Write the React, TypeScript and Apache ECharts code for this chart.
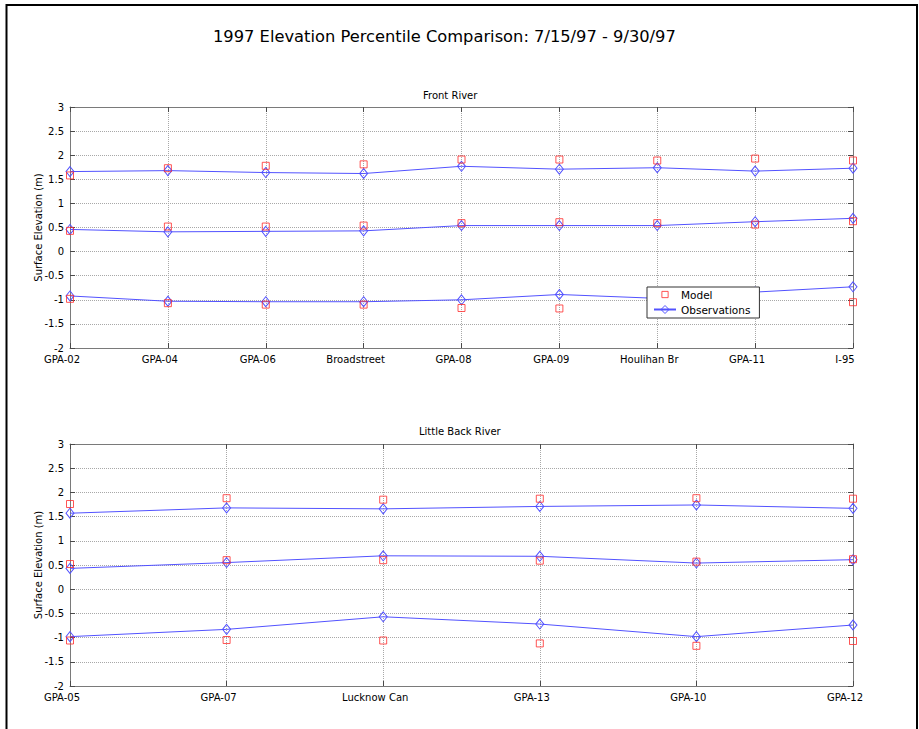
import React, { useEffect, useRef } from "react";
import * as echarts from "echarts";

// Station names along each river
const frontSites = ["GPA-02", "GPA-04", "GPA-06", "Broadstreet", "GPA-08", "GPA-09", "Houlihan Br", "GPA-11", "I-95"];
const littleSites = ["GPA-05", "GPA-07", "Lucknow Can", "GPA-13", "GPA-10", "GPA-12"];

// Front River percentile elevations (m)
const frontModelHigh = [1.58, 1.73, 1.78, 1.81, 1.91, 1.91, 1.89, 1.93, 1.89];
const frontObsHigh = [1.66, 1.68, 1.64, 1.62, 1.77, 1.71, 1.74, 1.67, 1.73];
const frontModelMid = [0.43, 0.52, 0.52, 0.54, 0.59, 0.61, 0.59, 0.56, 0.63];
const frontObsMid = [0.46, 0.41, 0.42, 0.43, 0.54, 0.54, 0.54, 0.62, 0.69];
const frontModelLow = [-0.98, -1.07, -1.1, -1.1, -1.17, -1.18, -1.12, -1.02, -1.05];
const frontObsLow = [-0.92, -1.03, -1.04, -1.04, -1.0, -0.89, -0.97, -0.84, -0.73];

// Little Back River percentile elevations (m)
const littleModelHigh = [1.76, 1.88, 1.85, 1.87, 1.88, 1.87];
const littleObsHigh = [1.57, 1.68, 1.66, 1.71, 1.74, 1.67];
const littleModelMid = [0.52, 0.6, 0.6, 0.59, 0.57, 0.62];
const littleObsMid = [0.43, 0.55, 0.69, 0.68, 0.54, 0.61];
const littleModelLow = [-1.06, -1.05, -1.06, -1.12, -1.17, -1.07];
const littleObsLow = [-0.98, -0.83, -0.57, -0.72, -0.98, -0.74];

const yMin = -2;
const yMax = 3;
const yStep = 0.5;

const FONT = '"DejaVu Sans", "Liberation Sans", sans-serif';
const FRAME = "#7a7a7a";
const TICK = "#4a4a4a";
const GRID = "#a8a8a8";
const BLUE = "#5252ff";
const RED = "#ff2a2a";

function panelAxes(g: number, sites: string[]) {
  const xAxes = [
    {
      gridIndex: g,
      type: "category",
      data: sites,
      boundaryGap: false,
      position: "bottom",
      axisLine: { show: true, onZero: false, lineStyle: { color: FRAME, width: 1 } },
      axisTick: { show: true, inside: true, length: 5, interval: 0, lineStyle: { color: TICK } },
      axisLabel: {
        interval: 0,
        color: "#000",
        fontFamily: FONT,
        fontSize: 10,
        margin: 6,
        padding: [0, 16, 0, 0],
      },
      splitLine: { show: true, interval: 0, lineStyle: { type: "dotted", color: GRID, width: 1 } },
    },
    {
      gridIndex: g,
      type: "category",
      data: sites,
      boundaryGap: false,
      position: "top",
      axisLine: { show: true, onZero: false, lineStyle: { color: FRAME, width: 1 } },
      axisTick: { show: true, inside: true, length: 5, interval: 0, lineStyle: { color: TICK } },
      axisLabel: { show: false },
      splitLine: { show: false },
    },
  ];
  const yAxes = [
    {
      gridIndex: g,
      type: "value",
      min: yMin,
      max: yMax,
      interval: yStep,
      position: "left",
      name: "Surface Elevation (m)",
      nameLocation: "middle",
      nameGap: 27,
      nameMoveOverlap: false,
      nameTextStyle: { color: "#000", fontFamily: FONT, fontSize: 10 },
      axisLine: { show: true, onZero: false, lineStyle: { color: FRAME, width: 1 } },
      axisTick: { show: true, inside: true, length: 5, lineStyle: { color: TICK } },
      axisLabel: { color: "#000", fontFamily: FONT, fontSize: 10, margin: 6 },
      splitLine: { show: true, lineStyle: { type: "dotted", color: GRID, width: 1 } },
    },
    {
      gridIndex: g,
      type: "value",
      min: yMin,
      max: yMax,
      interval: yStep,
      position: "right",
      axisLine: { show: true, onZero: false, lineStyle: { color: FRAME, width: 1 } },
      axisTick: { show: true, inside: true, length: 5, lineStyle: { color: TICK } },
      axisLabel: { show: false },
      splitLine: { show: false },
    },
  ];
  return { xAxes, yAxes };
}

function obsSeries(values: number[], axis: number) {
  return {
    name: "Observations",
    type: "line",
    xAxisIndex: axis,
    yAxisIndex: axis,
    data: values,
    symbol: "diamond",
    symbolSize: [8, 10],
    showAllSymbol: true,
    lineStyle: { color: BLUE, width: 1 },
    itemStyle: { color: "rgba(255,255,255,0)", borderColor: BLUE, borderWidth: 1 },
    z: 2,
  };
}

function modelSeries(values: number[], axis: number) {
  return {
    name: "Model",
    type: "scatter",
    xAxisIndex: axis,
    yAxisIndex: axis,
    data: values,
    symbol: "rect",
    symbolSize: 7,
    itemStyle: { color: "rgba(255,255,255,0)", borderColor: RED, borderWidth: 1 },
    z: 3,
  };
}

export default function App() {
  const ref = useRef<HTMLDivElement>(null);

  useEffect(() => {
    document.body.style.margin = "0";
    if (!ref.current) return;
    const chart = echarts.init(ref.current, undefined, { renderer: "svg" });

    const top = panelAxes(0, frontSites);
    const bottom = panelAxes(1, littleSites);

    chart.setOption({
      animation: false,
      backgroundColor: "#fff",
      title: [
        {
          text: "1997 Elevation Percentile Comparison: 7/15/97 - 9/30/97",
          left: 213,
          top: 28,
          padding: 0,
          textStyle: { fontFamily: FONT, fontSize: 16.3, fontWeight: "normal", color: "#000" },
        },
        {
          text: "Front River",
          left: 423,
          top: 90,
          padding: 0,
          textStyle: { fontFamily: FONT, fontSize: 10, fontWeight: "normal", color: "#000" },
        },
        {
          text: "Little Back River",
          left: 419,
          top: 426,
          padding: 0,
          textStyle: { fontFamily: FONT, fontSize: 10, fontWeight: "normal", color: "#000" },
        },
      ],
      grid: [
        { left: 70, right: 66, top: 107, height: 241 },
        { left: 70, right: 66, top: 444, height: 242 },
      ],
      xAxis: [...top.xAxes, ...bottom.xAxes],
      yAxis: [...top.yAxes, ...bottom.yAxes],
      legend: {
        orient: "vertical",
        left: 647,
        top: 287,
        data: [
          { name: "Model", icon: "path://M-3,-3M13,13M0,0H10V10H0Z" },
          { name: "Observations" },
        ],
        itemWidth: 22,
        itemHeight: 10,
        itemGap: 2,
        selectedMode: false,
        backgroundColor: "#fff",
        borderColor: "#333",
        borderWidth: 1,
        borderRadius: 0,
        padding: [1, 9, 2, 6],
        itemStyle: { borderWidth: 1 },
        textStyle: { fontFamily: FONT, fontSize: 10.5, color: "#000", lineHeight: 13 },
      },
      series: [
        obsSeries(frontObsHigh, 0),
        obsSeries(frontObsMid, 0),
        obsSeries(frontObsLow, 0),
        modelSeries(frontModelHigh, 0),
        modelSeries(frontModelMid, 0),
        modelSeries(frontModelLow, 0),
        obsSeries(littleObsHigh, 2),
        obsSeries(littleObsMid, 2),
        obsSeries(littleObsLow, 2),
        modelSeries(littleModelHigh, 2),
        modelSeries(littleModelMid, 2),
        modelSeries(littleModelLow, 2),
      ],
      graphic: [
        // page frame (open at the bottom)
        {
          type: "polyline",
          z: 100,
          shape: { points: [[6.5, 729], [6.5, 5], [917, 5], [917, 729]] },
          style: { stroke: "#000", lineWidth: 2, fill: "none" },
          silent: true,
        },
      ],
    });

    return () => {
      chart.dispose();
    };
  }, []);

  return (
    <div
      ref={ref}
      style={{ position: "absolute", left: 0, top: 0, width: 919, height: 729 }}
    />
  );
}
